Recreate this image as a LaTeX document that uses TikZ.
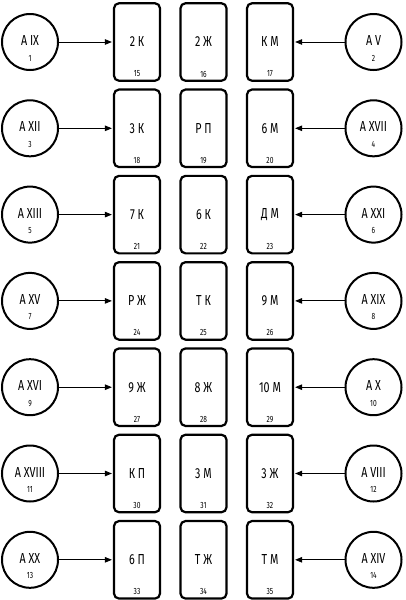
\documentclass[tikz,border=0pt]{standalone}
\usepackage{fontspec}
\setmainfont{Fira Sans}[FakeStretch=0.74]
\usetikzlibrary{arrows.meta}
\begin{document}
\begin{tikzpicture}[x=1pt,y=-1pt,
  boxnode/.style={draw, line width=2.2pt, rounded corners=5pt, minimum width=46pt, minimum height=77.5pt, inner sep=0pt, font=\fontsize{14.5}{14.5}\selectfont},
  circnode/.style={draw, circle, line width=2pt, minimum size=56pt, inner sep=0pt, font=\fontsize{14.5}{14.5}\selectfont},
  numnode/.style={inner sep=0pt, font=\fontsize{9}{9}\selectfont},
  conn/.style={line width=0.9pt, -{Triangle[length=7pt,width=5.5pt]}, shorten >=1pt}]
\useasboundingbox (0,0) rectangle (406,600);
\def\pitch{86.3}
\foreach \i/\ll/\ln/\rl/\rn/\ba/\bb/\bc/\na/\nb/\nc in {
  0/A IX/1/A V/2/2 К/2 Ж/К М/15/16/17,
  1/A XII/3/A XVII/4/3 К/Р П/6 М/18/19/20,
  2/A XIII/5/A XXI/6/7 К/6 К/Д М/21/22/23,
  3/A XV/7/A XIX/8/Р Ж/Т К/9 М/24/25/26,
  4/A XVI/9/A X/10/9 Ж/8 Ж/10 М/27/28/29,
  5/A XVIII/11/A VIII/12/К П/3 М/3 Ж/30/31/32,
  6/A XX/13/A XIV/14/6 П/Т Ж/Т М/33/34/35}{
  \pgfmathsetmacro{\yc}{42+\pitch*\i}
  \node[boxnode] (bA\i) at (137,\yc) {\ba};
  \node[boxnode] (bB\i) at (203.5,\yc) {\bb};
  \node[boxnode] (bC\i) at (270,\yc) {\bc};
  \path (bA\i.center) ++(0,32) node[numnode] (nA\i) {\na};
  \path (bB\i.center) ++(0,32) node[numnode] (nB\i) {\nb};
  \path (bC\i.center) ++(0,32) node[numnode] (nC\i) {\nc};
  \node[circnode] (cL\i) at (30,\yc) {\raisebox{3pt}{\ll}};
  \node[circnode] (cR\i) at (373.5,\yc) {\raisebox{3pt}{\rl}};
  \path (cL\i.center) ++(0,16) node[numnode] (mL\i) {\ln};
  \path (cR\i.center) ++(0,16) node[numnode] (mR\i) {\rn};
  \draw[conn] (cL\i) -- (bA\i);
  \draw[conn] (cR\i) -- (bC\i);
}
\end{tikzpicture}
\end{document}
